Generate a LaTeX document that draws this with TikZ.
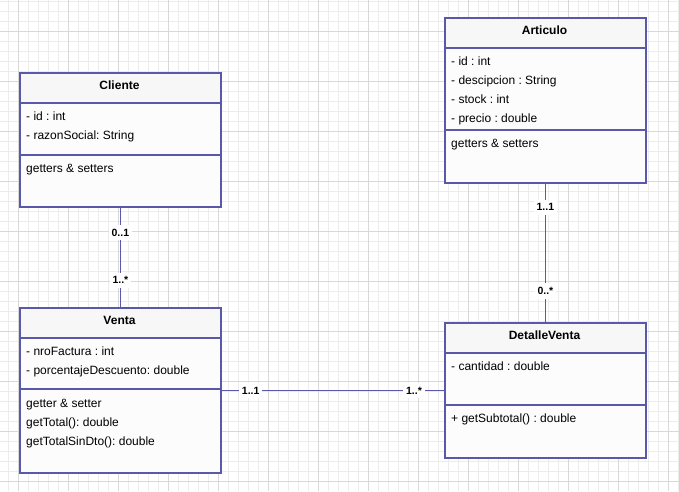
\documentclass[tikz,border=0pt]{standalone}
\usepackage{fontspec}
\setmainfont{Liberation Sans}
\frenchspacing
\definecolor{umlline}{RGB}{90,88,168}
\definecolor{bodyfill}{RGB}{252,252,252}
\definecolor{headfill}{RGB}{247,247,247}
\definecolor{minorgrid}{RGB}{236,236,236}
\definecolor{majorgrid}{RGB}{216,216,216}
\tikzset{
  classbox/.style={draw=umlline, line width=1.8pt, inner sep=0pt, anchor=north west},
  divider/.style={draw=umlline, line width=1.8pt},
  title/.style={font=\fontsize{12}{14}\selectfont\bfseries, inner sep=0pt, anchor=mid, yshift=-1.5pt},
  member/.style={font=\fontsize{12}{14}\selectfont, inner sep=0pt, anchor=mid west, yshift=-1.5pt},
  assoc/.style={draw=umlline, line width=1.8pt},
  mult/.style={font=\fontsize{10.5}{12}\selectfont\bfseries, fill=white, inner xsep=3pt, inner ysep=4pt}
}
\begin{document}
\begin{tikzpicture}[x=1pt,y=-1pt]
\useasboundingbox (0,0) rectangle (679,491);
\fill[white] (0,0) rectangle (679,491);
% background grid
\foreach \k in {0,...,67} \draw[minorgrid, line width=0.8pt] (8.3+10*\k,0) -- (8.3+10*\k,491);
\foreach \k in {0,...,48} \draw[minorgrid, line width=0.8pt] (0,1.7+10*\k) -- (679,1.7+10*\k);
\foreach \k in {0,...,13} \draw[majorgrid, line width=0.8pt] (18.3+50*\k,0) -- (18.3+50*\k,491);
\foreach \k in {0,...,9} \draw[majorgrid, line width=0.8pt] (0,31.7+50*\k) -- (679,31.7+50*\k);

% ---- Cliente ----
\fill[bodyfill] (19,72) rectangle (220,206);
\fill[headfill] (19,72) rectangle (220,103);
\node[classbox, minimum width=201pt, minimum height=134pt] (cliente) at (19,72) {};
\draw[divider] (19,103) -- (220,103);
\draw[divider] (19,155) -- (220,155);
\node[title] (clienteT) at (119.5,85) {Cliente};
\node[member] (clienteA1) at (26,116) {- id : int};
\node[member] (clienteA2) at (26,135) {- razonSocial: String};
\node[member] (clienteM1) at (26,168) {getters \& setters};

% ---- Venta ----
\fill[bodyfill] (19,307) rectangle (220,472);
\fill[headfill] (19,307) rectangle (220,338);
\node[classbox, minimum width=201pt, minimum height=165pt] (venta) at (19,307) {};
\draw[divider] (19,338) -- (220,338);
\draw[divider] (19,389) -- (220,389);
\node[title] (ventaT) at (119.5,320) {Venta};
\node[member] (ventaA1) at (26,351) {- nroFactura : int};
\node[member] (ventaA2) at (26,370) {- porcentajeDescuento: double};
\node[member] (ventaM1) at (26,403) {getter \& setter};
\node[member] (ventaM2) at (26,422) {getTotal(): double};
\node[member] (ventaM3) at (26,441) {getTotalSinDto(): double};

% ---- Articulo ----
\fill[bodyfill] (444,17) rectangle (645,182);
\fill[headfill] (444,17) rectangle (645,48);
\node[classbox, minimum width=201pt, minimum height=165pt] (articulo) at (444,17) {};
\draw[divider] (444,48) -- (645,48);
\draw[divider] (444,130) -- (645,130);
\node[title] (articuloT) at (544.5,30) {Articulo};
\node[member] (articuloA1) at (451,61) {- id : int};
\node[member] (articuloA2) at (451,80) {- descipcion : String};
\node[member] (articuloA3) at (451,99) {- stock : int};
\node[member] (articuloA4) at (451,118) {- precio : double};
\node[member] (articuloM1) at (451,143) {getters \& setters};

% ---- DetalleVenta ----
\fill[bodyfill] (444,322) rectangle (645,457);
\fill[headfill] (444,322) rectangle (645,353);
\node[classbox, minimum width=201pt, minimum height=135pt] (detalle) at (444,322) {};
\draw[divider] (444,353) -- (645,353);
\draw[divider] (444,405) -- (645,405);
\node[title] (detalleT) at (544.5,335) {DetalleVenta};
\node[member] (detalleA1) at (451,366) {- cantidad : double};
\node[member] (detalleM1) at (451,418) {+ getSubtotal() : double};

% ---- associations ----
\draw[assoc] (cliente.south) -- (venta.north)
  node[mult, pos=0.25] (m1) {0..1}
  node[mult, pos=0.73] (m2) {1..*};
\draw[assoc] (articulo.south) -- (detalle.north)
  node[mult, pos=0.17] (m3) {1..1}
  node[mult, pos=0.775] (m4) {0..*};
\draw[assoc] (venta.east) -- (detalle.west)
  node[mult, pos=0.13] (m5) {1..1}
  node[mult, pos=0.865] (m6) {1..*};
\end{tikzpicture}
\end{document}
